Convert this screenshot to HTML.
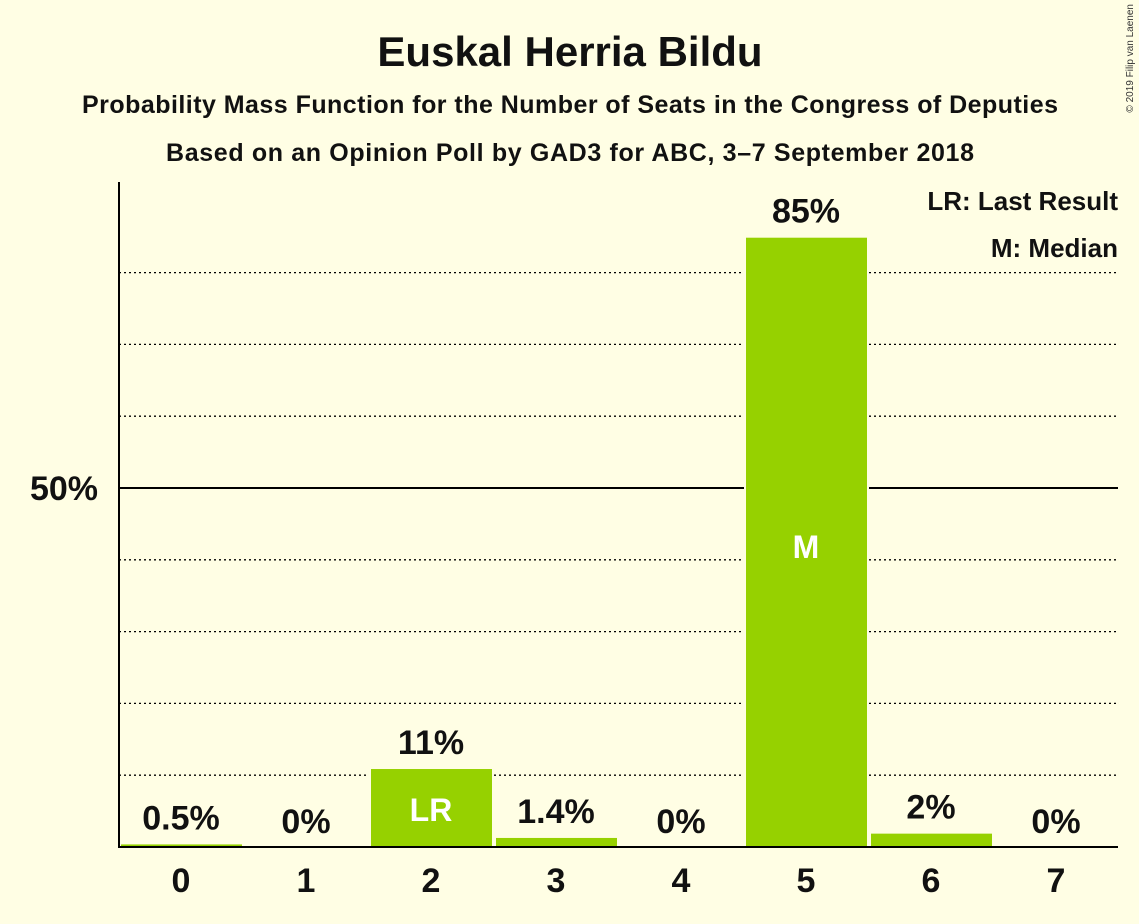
<!DOCTYPE html>
<html><head><meta charset="utf-8"><style>
body{margin:0;background:#FFFEE4;}
svg{display:block;font-family:"Liberation Sans",sans-serif;}
</style></head><body>
<svg id="chart" width="1139" height="924">
<rect width="1139" height="924" fill="#FFFEE4"/>
<text x="570" y="66" text-anchor="middle" font-size="42" font-weight="bold" fill="#111">Euskal Herria Bildu</text>
<text x="570" y="113" text-anchor="middle" font-size="25" font-weight="bold" fill="#111" textLength="976">Probability Mass Function for the Number of Seats in the Congress of Deputies</text>
<text x="570" y="161" text-anchor="middle" font-size="25" font-weight="bold" fill="#111" textLength="808">Based on an Opinion Poll by GAD3 for ABC, 3–7 September 2018</text>
<text x="1133" y="4" transform="rotate(-90 1133 4)" text-anchor="end" font-size="10" fill="#333">© 2019 Filip van Laenen</text>
<text x="1118" y="210" text-anchor="end" font-size="26" font-weight="bold" fill="#111">LR: Last Result</text>
<text x="1118" y="257" text-anchor="end" font-size="26" font-weight="bold" fill="#111">M: Median</text>
<g id="grid"></g><g id="bars"></g>
<line x1="119" y1="182" x2="119" y2="848" stroke="#000" stroke-width="2"/>
<line x1="118" y1="847" x2="1118" y2="847" stroke="#000" stroke-width="2"/>
<text x="98" y="500" text-anchor="end" font-size="34" font-weight="bold" fill="#111">50%</text>
</svg>
<script>
const categories=["0","1","2","3","4","5","6","7"];
const values=[0.5,0,11,1.4,0,85,2,0];
const valueLabels=["0.5%","0%","11%","1.4%","0%","85%","2%","0%"];
const gridTicks=[10,20,30,40,50,60,70,80];
const lastResult=2, median=5;
const NS="http://www.w3.org/2000/svg";
const y=v=>847-v*7.18;
const x=i=>119+i*125;
function mk(t,a,p){const e=document.createElementNS(NS,t);for(const k in a)e.setAttribute(k,a[k]);p.appendChild(e);return e;}
const g=document.getElementById('grid'),b=document.getElementById('bars');
gridTicks.forEach(t=>{
 const l=mk('line',{x1:119,x2:1118,y1:y(t),y2:y(t),stroke:'#000','stroke-width':t==50?2:1.3,'stroke-dasharray':t==50?'':'2,3'},g);
 
 
});
categories.forEach((c,i)=>{
 const v=values[i];
 if(v>0){const r=mk('rect',{x:x(i)+1,y:y(v),width:123,height:847-y(v),fill:'#96D100',stroke:'#FFFEE4','stroke-width':2},b);
 
 }
 const cx=x(i)+62;
 const lt=mk('text',{x:cx,y:y(v)-14,'text-anchor':'middle','font-size':34,'font-weight':'bold',fill:'#111'},b);
 lt.textContent=valueLabels[i];
 
 
 const xt=mk('text',{x:cx,y:892,'text-anchor':'middle','font-size':34,'font-weight':'bold',fill:'#111'},b);
 xt.textContent=c;
 
 
 if(i==lastResult||i==median){
  const m=mk('text',{x:cx,y:i==median?y(v/2)+16:y(v)+53,'text-anchor':'middle','font-size':32,'font-weight':'bold',fill:'#fff'},b);
  m.textContent=i==median?'M':'LR';
  
  
 }
});
</script>
</body></html>
